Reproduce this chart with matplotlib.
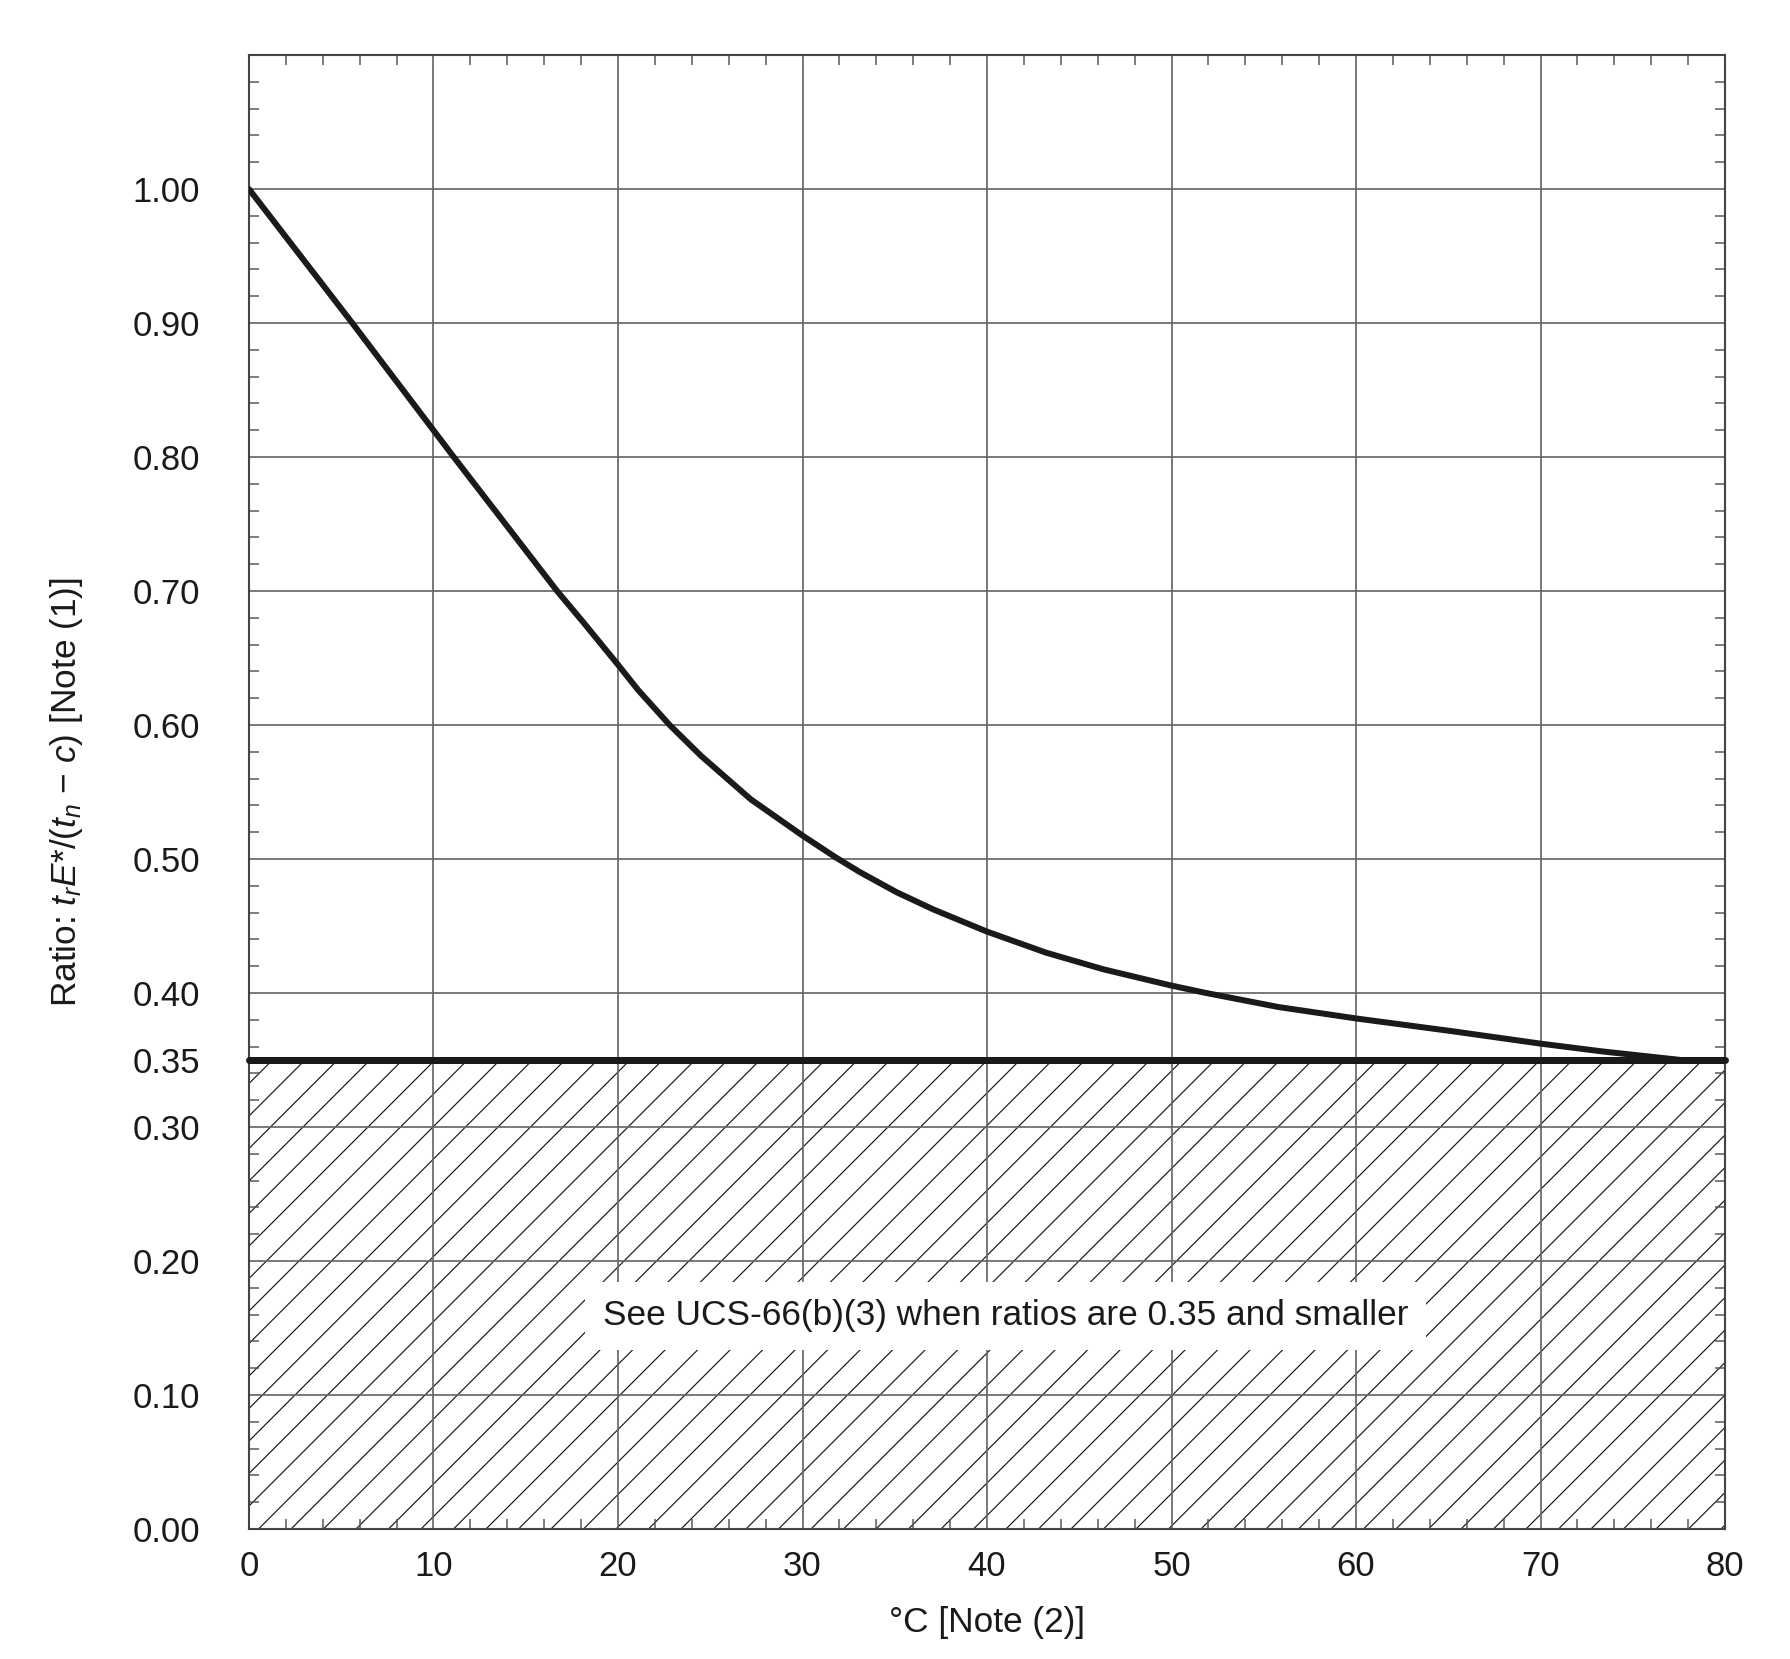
import matplotlib
matplotlib.use("Agg")
import matplotlib.pyplot as plt
import numpy as np

# curve: temperature reduction (C) vs thickness ratio
temps = [0.0, 5.6, 11.1, 16.7, 18.1, 20.0, 21.1, 22.8, 24.5, 27.2, 30.0,
         31.8, 33.1, 35.1, 37.1, 40.0, 43.2, 46.3, 50.0, 51.8, 55.8, 60.0,
         65.2, 70.0, 73.4, 77.6]
ratios = [1.00, 0.90, 0.80, 0.70, 0.677, 0.645, 0.626, 0.600, 0.577, 0.5445, 0.5175,
          0.5012, 0.4903, 0.4752, 0.4623, 0.4458, 0.4301, 0.4177, 0.4055, 0.4002, 0.3895, 0.381,
          0.3715, 0.3622, 0.3563, 0.350]

limit_ratio = 0.35
x_ticks = [0, 10, 20, 30, 40, 50, 60, 70, 80]
y_ticks = [0.0, 0.1, 0.2, 0.3, 0.35, 0.4, 0.5, 0.6, 0.7, 0.8, 0.9, 1.0]
y_labels = ["0.00", "0.10", "0.20", "0.30", "0.35", "0.40", "0.50",
            "0.60", "0.70", "0.80", "0.90", "1.00"]
note_text = "See UCS-66(b)(3) when ratios are 0.35 and smaller"
xlabel = "\u00b0C [Note (2)]"
ylabel = r"Ratio: $t_rE$*/($t_n$ $-$ $c$) [Note (1)]"

DPI = 195


def pt(px):
    # size given in output pixels -> points
    return px * 72.0 / DPI


plt.rcParams["font.family"] = ["Liberation Sans", "DejaVu Sans"]
plt.rcParams["mathtext.fontset"] = "custom"
plt.rcParams["mathtext.rm"] = "Liberation Sans"
plt.rcParams["mathtext.it"] = "Liberation Sans:italic"
plt.rcParams["hatch.linewidth"] = pt(1.2)
plt.rcParams["hatch.color"] = "#1a1a1a"

fig = plt.figure(figsize=(1791 / DPI, 1659 / DPI), dpi=DPI)
ax = fig.add_axes([0.139, 0.0784, 0.8242, 0.8884])
ax.set_xlim(0, 80)
ax.set_ylim(0, 1.1)

# hatched zone below the limit
ax.axhspan(0, limit_ratio, facecolor="white", edgecolor="#1a1a1a",
           hatch="//", linewidth=0, zorder=1)

ax.set_xticks(x_ticks)
ax.set_xticklabels([str(t) for t in x_ticks])
ax.set_yticks(y_ticks)
ax.set_yticklabels(y_labels)
ax.set_xticks(np.arange(0, 81, 2), minor=True)
ax.set_yticks(np.arange(0, 1.1, 0.02), minor=True)
ax.grid(True, which="major", color="#666666", linewidth=pt(1.7))

ax.tick_params(which="major", length=0, labelsize=pt(34.6), colors="#1a1a1a")
ax.tick_params(axis="y", which="major", pad=pt(49))
ax.tick_params(axis="x", which="major", pad=pt(21))
ax.tick_params(which="minor", direction="in", length=pt(10), width=pt(1.5),
               color="#555555", top=True, right=True)
for sp in ax.spines.values():
    sp.set_color("#444444")
    sp.set_linewidth(pt(2.1))

ax.plot(temps, ratios, color="#1a1a1a", linewidth=pt(6.0), zorder=4,
        solid_capstyle="round", solid_joinstyle="round")
ax.plot([0, 80], [limit_ratio, limit_ratio], color="#1a1a1a", linewidth=pt(7.0),
        zorder=4, solid_capstyle="round", clip_on=False)

ax.text(41.0, 0.159, note_text, ha="center", va="center", fontsize=pt(35.3),
        color="#1a1a1a", zorder=3,
        bbox=dict(boxstyle="square,pad=0.5", facecolor="white", edgecolor="none"))

fig.text(0.5511, 0.0217, xlabel, ha="center", va="center", fontsize=pt(35.3),
         color="#1a1a1a")
fig.text(0.0369, 0.5226, ylabel, ha="center", va="center", rotation=90,
         fontsize=pt(35.3), color="#1a1a1a")

fig.savefig("out.png", dpi=DPI, facecolor="white")
